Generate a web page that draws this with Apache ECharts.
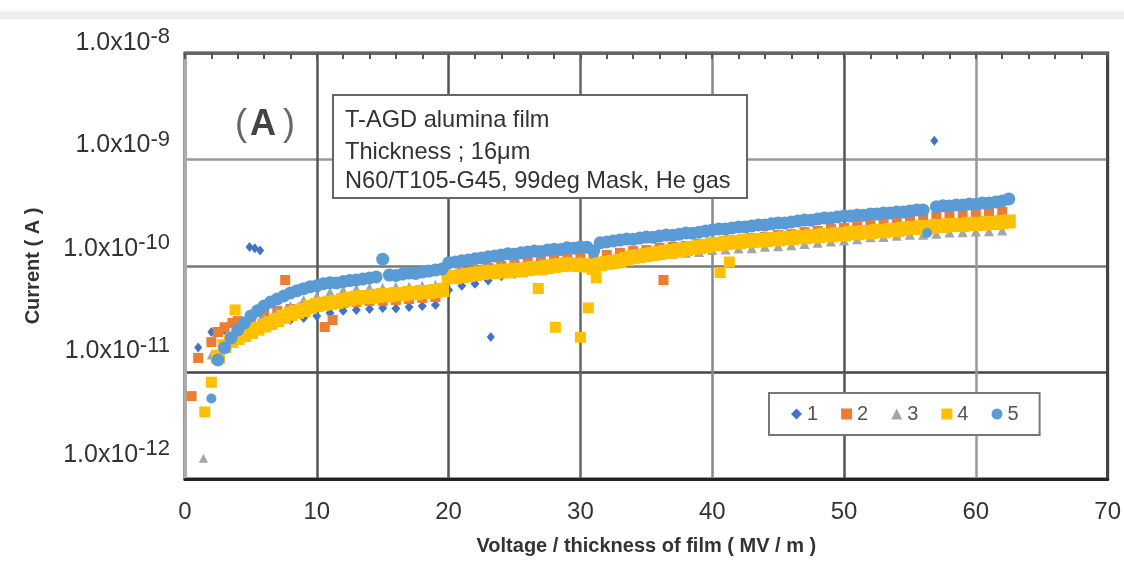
<!DOCTYPE html>
<html><head><meta charset="utf-8">
<script src="https://cdn.jsdelivr.net/npm/echarts@6/dist/echarts.min.js"></script>
<style>html,body{margin:0;padding:0;background:#fff}#c{width:1124px;height:562px}</style>
</head><body><div id="c"></div>
<script>
// ---------------- data (current in pA, field in MV/m) ----------------
const seriesNames = ['1', '2', '3', '4', '5'];
const xTicks = [0, 10, 20, 30, 40, 50, 60, 70];
const yTickExponents = [-12, -11, -10, -9, -8];

const fieldFine = [
  1.0,1.5,2.0,2.5,3.0,3.5,4.0,4.5,5.0,5.5,
  6.0,6.5,7.0,7.5,8.0,8.5,9.0,9.5,10.0,10.5,
  11.0,11.5,12.0,12.5,13.0,13.5,14.0,14.5,15.0,15.5,
  16.0,16.5,17.0,17.5,18.0,18.5,19.0,19.5,20.0,20.5,
  21.0,21.5,22.0,22.5,23.0,23.5,24.0,24.5,25.0,25.5,
  26.0,26.5,27.0,27.5,28.0,28.5,29.0,29.5,30.0,30.5,
  31.0,31.5,32.0,32.5,33.0,33.5,34.0,34.5,35.0,35.5,
  36.0,36.5,37.0,37.5,38.0,38.5,39.0,39.5,40.0,40.5,
  41.0,41.5,42.0,42.5,43.0,43.5,44.0,44.5,45.0,45.5,
  46.0,46.5,47.0,47.5,48.0,48.5,49.0,49.5,50.0,50.5,
  51.0,51.5,52.0,52.5,53.0,53.5,54.0,54.5,55.0,55.5,
  56.0,56.5,57.0,57.5,58.0,58.5,59.0,59.5,60.0,60.5,
  61.0,61.5,62.0,62.5
];
const fieldCoarse = [
  1,2,3,4,5,6,7,8,9,10,
  11,12,13,14,15,16,17,18,19,20,
  21,22,23,24,25,26,27,28,29,30,
  31,32,33,34,35,36,37,38,39,40,
  41,42,43,44,45,46,47,48,49,50,
  51,52,53,54,55,56,57,58,59,60,
  61,62
];

// series 5 (on fieldFine)
const current5pA = [
  null,null,5.7,13.1,17.1,21.1,25.1,29.2,34.0,37.9,
  42.1,46.0,49.0,52.3,55.9,58.6,61.2,64.0,65.4,68.3,
  69.8,69.2,71.4,72.9,73.9,75.6,77.3,79.0,116,82.2,
  81.5,84.0,85.8,85.0,87.7,89.6,91.6,93.6,107,109,
  112,114,117,119,122,124,127,130,129,133,
  135,138,137,141,144,143,148,147,151,150,
  138,165,168,172,175,179,178,183,187,186,
  191,195,194,199,204,203,208,213,218,223,
  222,228,233,232,238,243,242,249,254,253,
  259,265,270,269,276,283,282,289,295,294,
  301,300,308,307,315,314,322,321,329,336,
  335,null,360,367,366,374,373,382,381,391,
  390,399,408,426
];
// series 4 (on fieldFine)
const current4pA = [
  null,4.26,8.1,14.1,17.7,19.8,21.1,22.5,24.0,25.8,
  27.6,29.2,31.1,33.3,35.5,37.1,38.7,41.3,43.1,44.2,
  45.1,46.0,48.0,49.0,50.2,51.2,51.0,52.3,53.4,53.0,
  54.6,54.2,55.9,55.5,57.0,56.6,58.3,59.5,79.0,78.5,
  80.5,82.2,84.0,85.8,87.7,87.2,89.6,89.0,91.6,91.0,
  93.6,95.7,95.0,97.8,100,102,104,103,102,101,
  96.0,104,107,109,112,116,122,124,127,130,
  133,135,138,141,144,148,151,154,161,160,
  164,168,167,172,171,175,174,179,178,183,
  182,187,186,191,190,195,194,199,198,204,
  203,208,207,213,212,218,217,223,228,227,
  233,232,238,237,243,242,243,249,248,249,
  254,253,259,262
];
// series 1, 2, 3 (on fieldCoarse)
const current1pA = [
  17.2,24.0,25.1,26.2,27.6,28.5,29.8,31.1,32.5,34.0,
  36.2,37.9,38.7,39.5,40.4,40.0,41.3,42.1,43.1,59.5,
  65.4,68.3,72.9,80.0,84.0,88.0,92.0,96.0,100,104,
  108,114,118,124,129,135,140,146,152,158,
  165,172,179,187,195,199,208,213,223,228,
  233,243,249,259,265,276,295,295,301,308,
  315,322
];
const current2pA = [
  13.7,19.3,26.6,30.4,33.3,35.5,37.9,39.5,41.3,43.1,
  44.2,45.1,46.0,47.0,47.0,48.0,49.0,50.2,51.2,82.2,
  87.7,91.6,95.7,100,104,109,114,116,119,122,
  124,127,133,138,141,148,151,154,161,164,
  172,175,183,187,195,199,208,213,223,228,
  238,243,254,259,270,276,289,295,301,308,
  315,322
];
const current3pA = [
  null,14.6,18.1,22.5,27.9,32.5,37.1,42.1,48.0,52.3,
  57.0,59.5,61.2,62.6,62.6,64.0,64.0,65.4,66.3,87.7,
  91.6,95.7,97.8,100,102,104,107,109,112,114,
  114,116,119,122,124,127,130,133,135,141,
  143,146,147,152,153,157,161,165,170,174,
  178,186,187,192,196,197,201,206,207,211,
  212,216
];
// isolated points [field, pA]
const extra1 = [[4.9,151],[5.3,147],[5.7,140],[23.2,21.5],[56.85,1500]];
const extra2 = [[0.5,6.0],[2.5,24.0],[3.6,29.2],[7.6,73.9],[10.6,26.7],[11.2,31.1],[36.3,73.9]];
const extra3 = [[1.4,1.57]];
const extra4 = [[3.8,38.7],[26.8,61.5],[28.1,26.6],[30.0,21.4],[30.6,40.4],[31.2,77.3],[40.6,86.7],[41.3,109]];
const extra5 = [[56.3,204]];

// ---------------- chart ----------------
const PA = 1e-12;
function pts(xs, ys, extra) {
  const d = [];
  xs.forEach((x, i) => { if (ys[i] != null) d.push([x, ys[i] * PA]); });
  const n = d.length;
  extra.forEach(p => d.push([p[0], p[1] * PA]));
  return {data: d, bandCount: n};
}
const FONT = '"Liberation Sans", Arial, sans-serif';
const chart = echarts.init(document.getElementById('c'), null, {renderer: 'canvas'});

const seriesDefs = [
  {sym: 'diamond', band: [9, 10], single: [8, 10], color: '#4472C4', d: pts(fieldCoarse, current1pA, extra1)},
  {sym: 'rect', band: 10, single: 10, color: '#ED7D31', d: pts(fieldCoarse, current2pA, extra2)},
  {sym: 'triangle', band: 10, single: 9, color: '#A5A5A5', d: pts(fieldCoarse, current3pA, extra3)},
  {sym: 'rect', band: 14, single: 11, color: '#FFC000', d: pts(fieldFine, current4pA, extra4)},
  {sym: 'circle', band: 13, single: 10, color: '#5B9BD5', d: pts(fieldFine, current5pA, extra5)}
];

const gapStyle = {8: 20, 9: 28, 10: 34, 11: 42, 12: 48};
const rich = {
  m: {fontSize: 25, fontFamily: FONT, color: '#333', lineHeight: 34},
  s: {fontSize: 22, fontFamily: FONT, color: '#333', lineHeight: 14, verticalAlign: 'top'}
};
yTickExponents.forEach(e => { rich['g' + (-e)] = {fontSize: 1, lineHeight: gapStyle[-e]}; });

const textFont = '23.6px "Liberation Sans", Arial, sans-serif';
const option = {
  animation: false,
  textStyle: {fontFamily: FONT},
  grid: {left: 185, top: 53, width: 926, height: 426, show: true, borderColor: '#333', borderWidth: 3, backgroundColor: 'transparent'},
  xAxis: [{
    type: 'value', min: xTicks[0], max: xTicks[xTicks.length - 1], interval: 10, position: 'bottom',
    axisLine: {show: true, onZero: false, lineStyle: {color: '#222', width: 3}},
    axisTick: {show: false},
    splitLine: {show: true, lineStyle: {color: ['#777', '#555', '#555', '#666', '#888', '#555', '#999', '#444'], width: 2.5}},
    axisLabel: {margin: 21, fontSize: 24, color: '#333', fontFamily: FONT,
      formatter: v => xTicks.indexOf(v) >= 0 ? String(v) : ''},
    name: 'Voltage / thickness of film ( MV / m )', nameLocation: 'middle', nameGap: 57,
    nameTextStyle: {fontSize: 20, fontWeight: 'bold', color: '#333', fontFamily: FONT}
  }, {
    type: 'value', min: 0, max: 70, interval: 2, position: 'top',
    axisLine: {show: true, onZero: false, lineStyle: {color: '#666', width: 3}},
    axisTick: {show: true, inside: true, length: 6, lineStyle: {color: '#555', width: 2}},
    axisLabel: {show: false}, splitLine: {show: false}
  }],
  yAxis: [{
    type: 'log', logBase: 10, min: 1e-12, max: 1e-8, position: 'left',
    axisLine: {show: true, onZero: false, lineStyle: {color: '#aaa', width: 3}},
    axisTick: {show: false},
    splitLine: {show: true, lineStyle: {color: ['#333', '#444', '#777', '#999', '#666'], width: 2.5}},
    axisLabel: {
      margin: 15, align: 'right',
      formatter: v => {
        const e = Math.round(Math.log10(v));
        return '{m|1.0x10}{s|' + e + '}\n{g' + (-e) + '| }';
      },
      rich: rich
    },
    name: 'Current ( A )', nameLocation: 'middle', nameRotate: 90, nameGap: 142,
    nameTextStyle: {fontSize: 20, fontWeight: 'bold', color: '#333', fontFamily: FONT}
  }],
  legend: {
    data: seriesNames, left: 769, top: 393, orient: 'horizontal',
    padding: [11, 21, 11, 22], itemGap: 23, itemWidth: 11, itemHeight: 11,
    borderColor: '#777', borderWidth: 2, backgroundColor: '#fff',
    textStyle: {fontSize: 20, color: '#555', fontFamily: FONT}
  },
  graphic: [
    {type: 'rect', z: 1, shape: {x: 0, y: 11, width: 1124, height: 8}, style: {fill: '#efefef'}},
    {type: 'rect', z: 100, shape: {x: 333, y: 95, width: 414, height: 103}, style: {fill: '#fff', stroke: '#666', lineWidth: 2}},
    {type: 'text', z: 101, x: 345, y: 120, style: {text: 'T-AGD alumina film', font: textFont, fill: '#333', verticalAlign: 'middle'}},
    {type: 'text', z: 101, x: 345, y: 152, style: {text: 'Thickness ; 16\u03bcm', font: textFont, fill: '#333', verticalAlign: 'middle'}},
    {type: 'text', z: 101, x: 345, y: 181, style: {text: 'N60/T105-G45, 99deg Mask, He gas', font: textFont, fill: '#333', verticalAlign: 'middle'}},
    {type: 'text', z: 101, x: 265, y: 125, style: {
      text: '{p|(}{a|\u200aA\u2009}{p|)}', align: 'center', verticalAlign: 'middle',
      rich: {p: {fontSize: 36, fontFamily: FONT, fill: '#666'}, a: {fontSize: 36, fontWeight: 'bold', fontFamily: FONT, fill: '#444'}}
    }}
  ],
  series: seriesDefs.map((s, i) => ({
    name: seriesNames[i], type: 'scatter', symbol: s.sym,
    symbolSize: (val, p) => (p.dataIndex < s.d.bandCount && val[0] >= 2.5 ? s.band : s.single),
    itemStyle: {color: s.color, opacity: 1}, data: s.d.data, silent: true, z: 2
  }))
};
chart.setOption(option);
</script></body></html>
